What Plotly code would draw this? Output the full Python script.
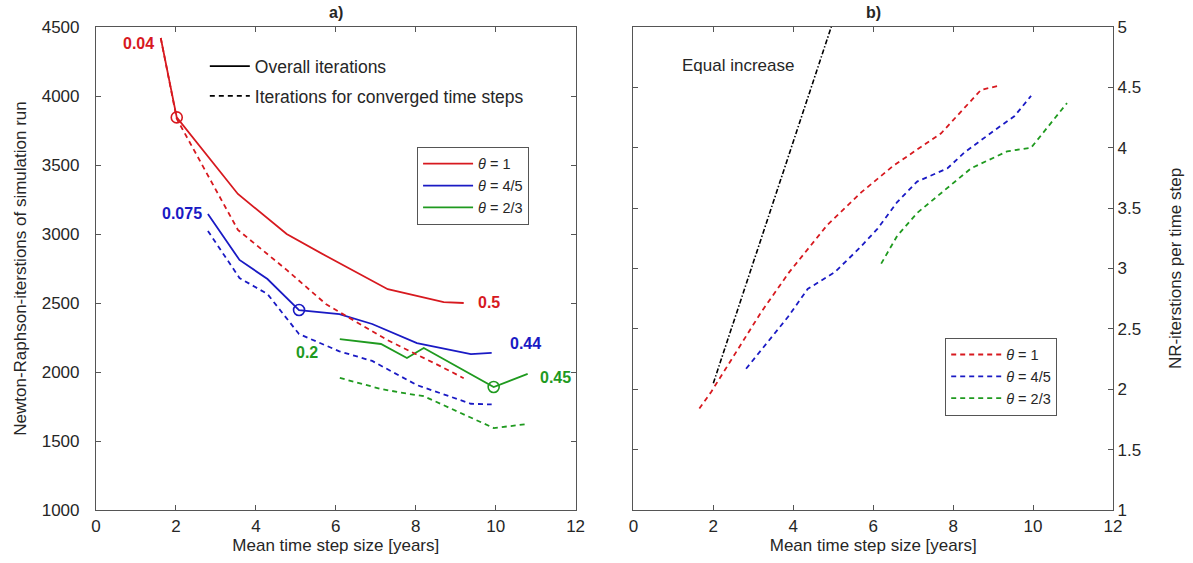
import plotly.graph_objects as go

# ---------------- data: panel a) ----------------
x_t1 = [1.62, 2.02, 3.55, 4.77, 5.76, 7.3, 8.7, 9.2]
y_t1_all = [4420, 3845, 3290, 3000, 2840, 2600, 2507, 2500]
y_t1_conv = [4420, 3835, 3030, 2740, 2490, 2230, 2030, 1955]

x_t45 = [2.8, 3.59, 4.29, 5.08, 6.09, 6.91, 8.03, 9.38, 9.9]
y_t45_all = [3145, 2812, 2674, 2449, 2420, 2348, 2210, 2130, 2138]
y_t45_conv = [3022, 2681, 2565, 2275, 2150, 2080, 1905, 1770, 1765]

x_t23 = [6.1, 7.13, 7.78, 8.2, 9.95, 10.8]
y_t23_all = [2239, 2203, 2101, 2174, 1891, 1986]
y_t23_conv = [1957, 1877, 1843, 1825, 1594, 1623]

# index of the highlighted (circled) run in each series
circle_idx_t1 = 1
circle_idx_t45 = 3
circle_idx_t23 = 4

# ---------------- data: panel b) ----------------
xb_t1 = [1.65, 1.95, 3.2, 3.9, 4.85, 5.7, 6.5, 7.35, 7.7, 8.7, 9.1]
yb_t1 = [1.84, 1.98, 2.64, 2.97, 3.36, 3.63, 3.85, 4.04, 4.12, 4.48, 4.51]

xb_t45 = [2.82, 3.87, 4.36, 5.04, 5.66, 6.11, 6.6, 7.1, 7.86, 8.28, 9.1, 9.53, 9.95]
yb_t45 = [2.17, 2.6, 2.83, 2.97, 3.17, 3.33, 3.55, 3.72, 3.83, 3.96, 4.16, 4.26, 4.43]

xb_t23 = [6.2, 6.6, 7.1, 8.1, 8.45, 9.35, 9.95, 10.85]
yb_t23 = [3.04, 3.27, 3.46, 3.74, 3.83, 3.97, 4.0, 4.37]

x_equal = [2.0, 5.0]
y_equal = [2.05, 5.05]

x_ticks = [0, 2, 4, 6, 8, 10, 12]
ya_ticks = [1000, 1500, 2000, 2500, 3000, 3500, 4000, 4500]
yb_ticks = [1, 1.5, 2, 2.5, 3, 3.5, 4, 4.5, 5]
yb_ticklabels = ["1", "1.5", "2", "2.5", "3", "3.5", "4", "4.5", "5"]

labels_theta = ["<i>θ</i> = 1", "<i>θ</i> = 4/5", "<i>θ</i> = 2/3"]

RED = "#d7191f"
BLUE = "#1a1ac4"
GREEN = "#1f9a1f"
FONT = "Liberation Sans, Arial, sans-serif"
TXT = "#262626"
AX = "#555555"
DASH = "5px,4px"

fig = go.Figure()

series_a = [
    (x_t1, y_t1_all, y_t1_conv, RED, labels_theta[0], circle_idx_t1),
    (x_t45, y_t45_all, y_t45_conv, BLUE, labels_theta[1], circle_idx_t45),
    (x_t23, y_t23_all, y_t23_conv, GREEN, labels_theta[2], circle_idx_t23),
]
for xs, ya, yc, col, name, ci in series_a:
    fig.add_trace(go.Scatter(x=xs, y=ya, mode="lines", name=name,
                             line=dict(color=col, width=1.8),
                             xaxis="x", yaxis="y", legend="legend"))
for xs, ya, yc, col, name, ci in series_a:
    fig.add_trace(go.Scatter(x=xs, y=yc, mode="lines", showlegend=False,
                             line=dict(color=col, width=1.8, dash=DASH),
                             xaxis="x", yaxis="y"))
for xs, ya, yc, col, name, ci in series_a:
    fig.add_trace(go.Scatter(x=[xs[ci]], y=[ya[ci]], mode="markers", showlegend=False,
                             marker=dict(symbol="circle-open", size=11, color=col,
                                         line=dict(width=1.6, color=col)),
                             xaxis="x", yaxis="y"))

# black legend entries (style keys)
fig.add_trace(go.Scatter(x=[None], y=[None], mode="lines", name="Overall iterations",
                         line=dict(color="black", width=1.8), legendgroup="g1",
                         xaxis="x", yaxis="y", legend="legend3"))
fig.add_trace(go.Scatter(x=[None], y=[None], mode="lines",
                         name="Iterations for converged time steps", legendgroup="g2",
                         line=dict(color="black", width=1.8, dash=DASH),
                         xaxis="x", yaxis="y", legend="legend3"))

# panel b
fig.add_trace(go.Scatter(x=x_equal, y=y_equal, mode="lines", showlegend=False,
                         line=dict(color="black", width=1.6, dash="5px,2px,1.5px,2px"),
                         xaxis="x2", yaxis="y2"))
for xs, ys, col, name in [(xb_t1, yb_t1, RED, labels_theta[0]),
                          (xb_t45, yb_t45, BLUE, labels_theta[1]),
                          (xb_t23, yb_t23, GREEN, labels_theta[2])]:
    fig.add_trace(go.Scatter(x=xs, y=ys, mode="lines", name=name,
                             line=dict(color=col, width=1.8, dash=DASH),
                             xaxis="x2", yaxis="y2", legend="legend2"))

axis_common = dict(showline=True, mirror="ticks", ticks="inside", ticklen=5,
                   linecolor=AX, tickcolor=AX, linewidth=1.2, showgrid=False,
                   zeroline=False, tickfont=dict(family=FONT, size=17, color=TXT),
                   title_font=dict(family=FONT, size=17, color=TXT))

fig.update_layout(
    width=1193, height=563,
    margin=dict(l=96, r=77, t=27, b=52),
    paper_bgcolor="white", plot_bgcolor="white",
    font=dict(family=FONT, color=TXT),
    xaxis=dict(domain=[0, 0.4716], anchor="y", range=[0, 12], tickvals=x_ticks,
               title=dict(text="Mean time step size [years]", standoff=4), **axis_common),
    yaxis=dict(domain=[0, 1], anchor="x", range=[1000, 4500], tickvals=ya_ticks,
               ticklabelstandoff=12,
               title=dict(text="Newton-Raphson-iterstions of simulation run", standoff=10),
               **axis_common),
    xaxis2=dict(domain=[0.5284, 1], anchor="y2", range=[0, 12], tickvals=x_ticks,
                title=dict(text="Mean time step size [years]", standoff=4), **axis_common),
    yaxis2=dict(domain=[0, 1], anchor="x2", range=[1, 5], tickvals=yb_ticks,
                ticktext=yb_ticklabels, side="right",
                title=dict(text="NR-iterstions per time step", standoff=28), **axis_common),
    legend=dict(x=0.3157, y=0.752, xanchor="left", yanchor="top",
                bordercolor=AX, borderwidth=1, bgcolor="white",
                font=dict(family=FONT, size=14.5, color=TXT), itemwidth=50),
    legend2=dict(x=0.835, y=0.357, xanchor="left", yanchor="top",
                 bordercolor=AX, borderwidth=1, bgcolor="white",
                 font=dict(family=FONT, size=14.5, color=TXT), itemwidth=50),
    legend3=dict(x=0.107, y=0.956, xanchor="left", yanchor="top",
                 borderwidth=0, bgcolor="rgba(0,0,0,0)", traceorder="grouped",
                 tracegroupgap=4,
                 font=dict(family=FONT, size=17.5, color=TXT), itemwidth=40),
)

ann = [
    dict(text="<b>a)</b>", x=6, y=4500, xref="x", yref="y", yanchor="bottom", yshift=4,
         showarrow=False, font=dict(family=FONT, size=16, color=TXT)),
    dict(text="<b>b)</b>", x=6, y=5, xref="x2", yref="y2", yanchor="bottom", yshift=4,
         showarrow=False, font=dict(family=FONT, size=16, color=TXT)),
    dict(text="<b>0.04</b>", x=1.07, y=4384, xref="x", yref="y", showarrow=False,
         font=dict(family=FONT, size=16, color=RED)),
    dict(text="<b>0.075</b>", x=2.15, y=3145, xref="x", yref="y", showarrow=False,
         font=dict(family=FONT, size=16, color=BLUE)),
    dict(text="<b>0.5</b>", x=9.83, y=2507, xref="x", yref="y", showarrow=False,
         font=dict(family=FONT, size=16, color=RED)),
    dict(text="<b>0.44</b>", x=10.75, y=2203, xref="x", yref="y", showarrow=False,
         font=dict(family=FONT, size=16, color=BLUE)),
    dict(text="<b>0.2</b>", x=5.29, y=2138, xref="x", yref="y", showarrow=False,
         font=dict(family=FONT, size=16, color=GREEN)),
    dict(text="<b>0.45</b>", x=11.5, y=1957, xref="x", yref="y", showarrow=False,
         font=dict(family=FONT, size=16, color=GREEN)),
    dict(text="Equal increase", x=2.62, y=4.68, xref="x2", yref="y2", showarrow=False,
         font=dict(family=FONT, size=17, color=TXT)),
]
fig.update_layout(annotations=ann)

fig.write_html("out.html")
